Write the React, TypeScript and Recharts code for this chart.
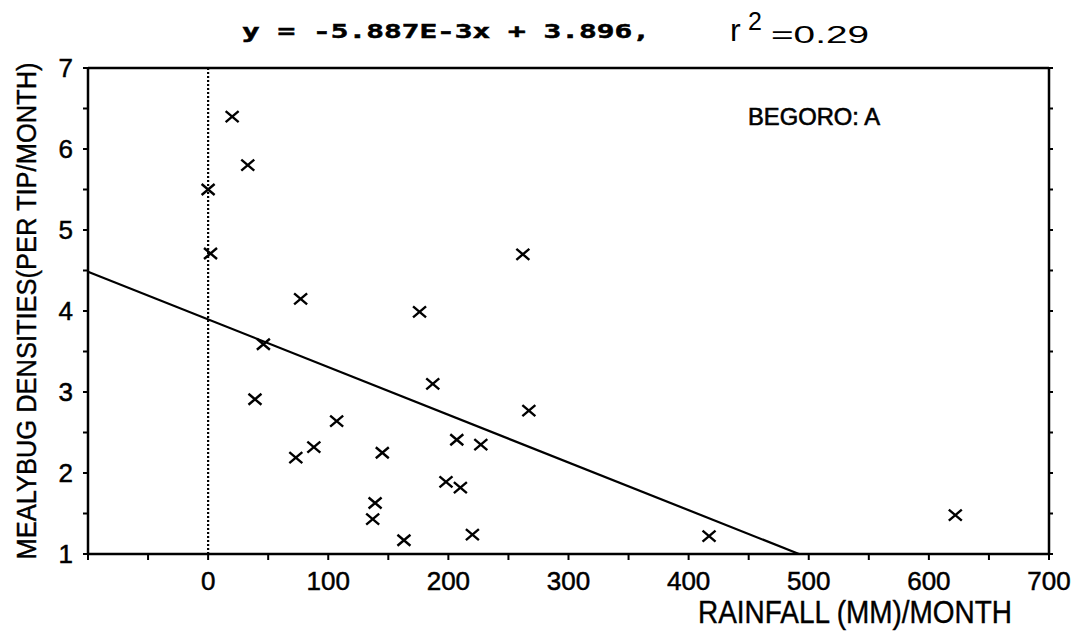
import React from 'react';
import { ScatterChart, Scatter, XAxis, YAxis, ReferenceLine } from 'recharts';

const rainfall = [20, 33, 0, 2, 77, 176, 46, 262, 39, 73, 88, 107, 145, 139, 137, 163, 187, 198, 207, 210, 220, 227, 267, 417, 622];
const density = [6.4, 5.8, 5.5, 4.71, 4.15, 3.99, 3.59, 4.7, 2.91, 2.19, 2.32, 2.64, 2.25, 1.63, 1.43, 1.17, 3.1, 1.89, 2.41, 1.82, 1.24, 2.35, 2.77, 1.22, 1.48];

const xTicks = [-100, -50, 0, 50, 100, 150, 200, 250, 300, 350, 400, 450, 500, 550, 600, 650, 700];
const yTicks = [1, 1.5, 2, 2.5, 3, 3.5, 4, 4.5, 5, 5.5, 6, 6.5, 7];

const slope = -5.887e-3;
const intercept = 3.896;
const xMin = -100;
const xMax = 700;
const yMin = 1;
const yMax = 7;

const points = rainfall.map((x, i) => ({ x, y: density[i] }));
const lineStart = { x: xMin, y: intercept + slope * xMin };
const lineEnd = { x: (yMin - intercept) / slope, y: yMin };

const W = 1072;
const H = 633;
const FONT = 'Liberation Sans, Arial, sans-serif';

const XMark = (props: any) => {
  const { cx, cy } = props;
  if (cx == null || cy == null) return null;
  const a = 6.5, b = 5.5;
  return (
    <path
      d={`M${cx - a},${cy - b}L${cx + a},${cy + b}M${cx - a},${cy + b}L${cx + a},${cy - b}`}
      stroke="#000"
      strokeWidth={2.4}
      fill="none"
    />
  );
};

const axisStroke = { stroke: '#000', strokeWidth: 2.5 };
const tickStroke = { stroke: '#000', strokeWidth: 2 };
const tickText = { fill: '#000', stroke: '#000', strokeWidth: 0.5, fontSize: 26, fontFamily: FONT };

export default function App() {
  return (
    <div style={{ position: 'relative', width: W, height: H, background: '#fff' }}>
      <ScatterChart width={W} height={H} margin={{ top: 50, right: 23, bottom: 57, left: 30 }}>
        <XAxis
          xAxisId="b"
          dataKey="x"
          type="number"
          orientation="bottom"
          domain={[xMin, xMax]}
          ticks={xTicks}
          interval={0}
          allowDataOverflow
          height={30}
          stroke="#000"
          axisLine={axisStroke}
          tickLine={tickStroke}
          tickSize={6}
          tickMargin={12}
          tick={tickText}
          tickFormatter={(v: number) => (v >= 0 && v % 100 === 0 ? String(v) : '')}
        />
        <XAxis
          xAxisId="t"
          type="number"
          orientation="top"
          domain={[xMin, xMax]}
          ticks={xTicks}
          interval={0}
          allowDataOverflow
          height={10}
          stroke="#000"
          axisLine={axisStroke}
          tickLine={tickStroke}
          tickSize={5}
          tickFormatter={() => ''}
        />
        <YAxis
          yAxisId="l"
          dataKey="y"
          type="number"
          orientation="left"
          domain={[yMin, yMax]}
          ticks={yTicks}
          interval={0}
          allowDataOverflow
          width={50}
          stroke="#000"
          axisLine={axisStroke}
          tickLine={tickStroke}
          tickSize={5}
          tickMargin={10}
          tick={tickText}
          tickFormatter={(v: number) => (Number.isInteger(v) ? String(v) : '')}
        />
        <YAxis
          yAxisId="r"
          type="number"
          orientation="right"
          domain={[yMin, yMax]}
          ticks={yTicks}
          interval={0}
          allowDataOverflow
          width={8}
          stroke="#000"
          axisLine={axisStroke}
          tickLine={tickStroke}
          tickSize={4}
          tickFormatter={() => ''}
        />
        <ReferenceLine
          xAxisId="b"
          yAxisId="l"
          x={0}
          stroke="#000"
          strokeWidth={2.2}
          strokeDasharray="2 2"
        />
        <ReferenceLine
          xAxisId="b"
          yAxisId="l"
          segment={[lineStart, lineEnd]}
          stroke="#000"
          strokeWidth={2.2}
        />
        <Scatter
          xAxisId="b"
          yAxisId="l"
          data={points}
          shape={<XMark />}
          isAnimationActive={false}
        />
      </ScatterChart>
      <svg
        width={1080}
        height={641}
        style={{ position: 'absolute', left: -8, top: -8, pointerEvents: 'none', overflow: 'visible' }}
      >
        <text
          x={242}
          y={38}
          fontFamily="DejaVu Sans Mono, monospace"
          fontWeight="bold"
          fontSize={20}
          stroke="#000"
          strokeWidth={0.5}
          textLength={408}
          lengthAdjust="spacingAndGlyphs"
          fill="#000"
        >
          y = -5.887E-3x + 3.896,
        </text>
        <text x={730} y={41} fontFamily={FONT} fontSize={32} fill="#000">r</text>
        <text x={748} y={30} fontFamily={FONT} fontSize={25} fill="#000">2</text>
        <text
          x={771}
          y={43}
          fontFamily={FONT}
          fontSize={24}
          textLength={98}
          lengthAdjust="spacingAndGlyphs"
          fill="#000"
        >
          =0.29
        </text>
        <text
          x={748}
          y={125}
          fontFamily={FONT}
          fontSize={23}
          stroke="#000"
          strokeWidth={0.6}
          textLength={132}
          lengthAdjust="spacingAndGlyphs"
          fill="#000"
        >
          BEGORO: A
        </text>
        <text
          x={698}
          y={623}
          fontFamily={FONT}
          fontSize={31}
          stroke="#000"
          strokeWidth={0.4}
          textLength={314}
          lengthAdjust="spacingAndGlyphs"
          fill="#000"
        >
          RAINFALL (MM)/MONTH
        </text>
        <text
          x={36}
          y={311}
          transform="rotate(-90, 36, 311)"
          textAnchor="middle"
          fontFamily={FONT}
          fontSize={27}
          stroke="#000"
          strokeWidth={0.4}
          textLength={497}
          lengthAdjust="spacingAndGlyphs"
          fill="#000"
        >
          MEALYBUG DENSITIES(PER TIP/MONTH)
        </text>
      </svg>
    </div>
  );
}
